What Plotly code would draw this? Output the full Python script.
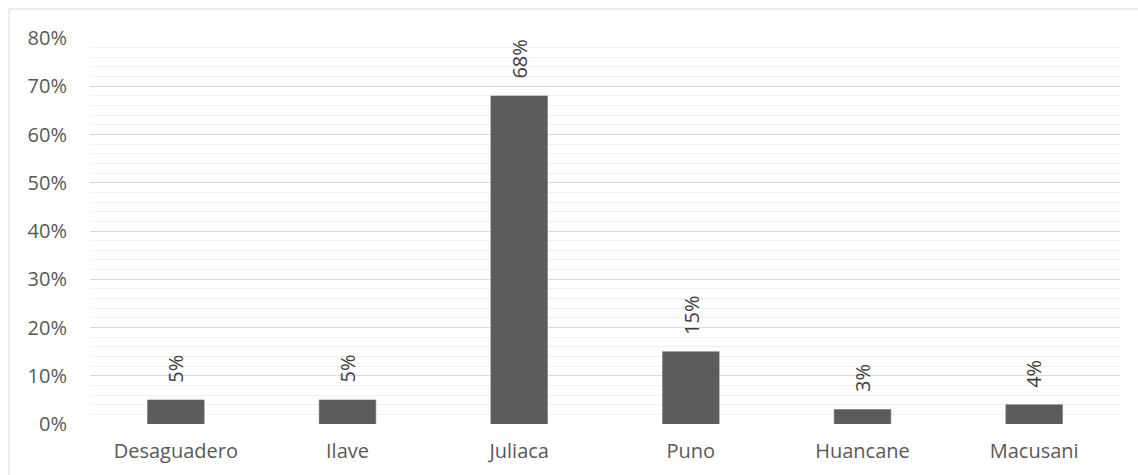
import plotly.graph_objects as go

# Share of respondents by city
cities = ["Desaguadero", "Ilave", "Juliaca", "Puno", "Huancane", "Macusani"]
shares = [5, 5, 68, 15, 3, 4]
labels = ["5%", "5%", "68%", "15%", "3%", "4%"]
y_ticks = [0, 10, 20, 30, 40, 50, 60, 70, 80]
y_tick_text = ["0%", "10%", "20%", "30%", "40%", "50%", "60%", "70%", "80%"]

font_family = "'Open Sans', Lato, sans-serif"
text_color = "#595959"
font_size = 20

fig = go.Figure(
    go.Bar(
        x=cities,
        y=shares,
        marker=dict(color="#5c5c5c", line=dict(color="#6a6a6a", width=0.5)),
        width=0.33,
        hoverinfo="skip",
    )
)

# Rotated value labels above each bar
for c, v, t in zip(cities, shares, labels):
    fig.add_annotation(
        x=c, y=v, text=t, textangle=-90, showarrow=False,
        xanchor="center", yanchor="bottom", yshift=15,
        font=dict(family=font_family, size=font_size, color="#404040"),
    )

# Light outer frame around the chart area
fig.add_shape(
    type="rect", xref="paper", yref="paper",
    x0=(9 - 90) / 1030, x1=(1160 - 90) / 1030,
    y0=(424 - 500) / 386, y1=(424 - 9) / 386,
    line=dict(color="#d9d9d9", width=1), layer="below",
)

fig.update_layout(
    width=1138,
    height=475,
    margin=dict(l=90, r=18, t=38, b=51),
    paper_bgcolor="white",
    plot_bgcolor="white",
    showlegend=False,
    font=dict(family=font_family, size=font_size, color=text_color),
    xaxis=dict(
        showgrid=False, showline=False, ticks="", zeroline=False,
        ticklabelstandoff=13,
        tickfont=dict(size=font_size, color=text_color),
    ),
    yaxis=dict(
        range=[0, 80],
        tickvals=y_ticks,
        ticktext=y_tick_text,
        showgrid=True, gridcolor="#d9d9d9", gridwidth=1,
        zeroline=False, showline=False, ticks="",
        ticklabelstandoff=22,
        minor=dict(dtick=2, showgrid=True, gridcolor="#f0f0f0", gridwidth=1),
        tickfont=dict(size=font_size, color=text_color),
    ),
)

fig.write_html("out.html")
